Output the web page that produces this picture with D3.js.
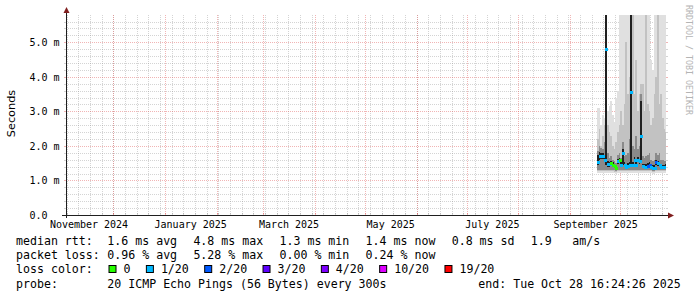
<!DOCTYPE html>
<html><head><meta charset="utf-8">
<script src="https://cdn.jsdelivr.net/npm/d3@7"></script>
<style>html,body{margin:0;padding:0;background:#fff;} svg{display:block;}</style>
</head><body><svg id="c" width="697" height="297"></svg>
<script>
// ---------------- data ----------------
const endTime = "2025-10-28T16:24:26Z";
const spanDays = 360;
const yMaxMs = 5.79;
const yTickValues = [0, 1, 2, 3, 4, 5];
const yTickLabels = ["0.0", "1.0 m", "2.0 m", "3.0 m", "4.0 m", "5.0 m"];
const xLabelMonths = ["2024-11-01", "2025-01-01", "2025-03-01", "2025-05-01", "2025-07-01", "2025-09-01"];
const xLabels = ["November 2024", "January 2025", "March 2025", "May 2025", "July 2025", "September 2025"];
const yAxisTitle = "Seconds";
const watermark = "RRDTOOL / TOBI OETIKER";

// daily bins starting at this time
const binStart = "2025-09-17T12:00:00Z";
const medianMs = [1.52,1.70,1.72,1.72,1.60,4.80,1.48,1.47,1.50,1.45,1.42,1.35,1.56,1.58,1.45,1.80,1.45,1.40,1.42,1.45,3.55,1.45,1.60,1.45,1.60,1.55,2.30,1.42,1.40,1.40,1.43,1.45,1.40,1.37,1.37,1.52,1.50,1.45,1.40,1.38,1.38,1.40];
const lossPings = [1,1,1,1,1,1,1,1,0,0,0,0,1,0,1,1,1,1,1,1,1,1,1,1,1,1,1,1,1,1,2,2,1,1,1,2,1,1,1,1,1,1];
// smoke bands (ms), outer (light) to inner (dark)
const band1Lo = [1.22,1.22,1.22,1.22,1.22,1.22,1.22,1.22,1.22,1.22,1.22,1.2,1.22,1.22,1.22,1.22,1.22,1.22,1.22,1.22,1.22,1.22,1.22,1.22,1.22,1.22,1.22,1.22,1.22,1.22,1.22,1.22,1.22,1.2,1.2,1.22,1.22,1.22,1.22,1.22,1.22,1.22];
const band1Hi = [3.1,3.1,2.6,2.9,2.8,6,3.0,3.15,3.3,2.9,2.7,3.4,3.6,6,6,6,6,6,6,6,6,6,6,6,6,6,6,6,6,6,6,6,4.5,4.2,6,6,6,6,6,6,6,6];
const band2Lo = [1.26,1.26,1.26,1.26,1.26,1.26,1.26,1.26,1.26,1.26,1.25,1.24,1.26,1.26,1.26,1.26,1.26,1.26,1.26,1.26,1.26,1.26,1.26,1.26,1.26,1.26,1.26,1.26,1.26,1.26,1.26,1.26,1.26,1.25,1.25,1.26,1.26,1.26,1.26,1.26,1.26,1.26];
const band2Hi = [2.2,2.5,2.0,2.3,2.6,6,2.6,2.4,2.3,2.0,1.9,2.1,2.4,2.6,3.0,2.6,3.2,5.0,3.5,4.0,6,6,3.5,4.5,3.0,3.5,3.8,3.8,3.0,6,3.2,3.0,2.6,2.8,3.5,4.0,6,3.2,3.5,2.8,2.5,2.4];
const band3Lo = [1.3,1.3,1.3,1.3,1.3,1.3,1.3,1.3,1.3,1.3,1.29,1.27,1.3,1.3,1.3,1.3,1.3,1.3,1.3,1.3,1.3,1.3,1.3,1.3,1.3,1.3,1.3,1.3,1.3,1.3,1.3,1.3,1.3,1.28,1.28,1.3,1.3,1.3,1.3,1.3,1.3,1.3];
const band3Hi = [1.85,2.0,1.95,1.9,2.1,6,1.8,1.65,1.7,1.6,1.55,1.5,1.75,1.8,1.65,2.1,1.7,1.75,1.8,2.2,6,2.0,1.9,2.3,1.9,2.0,3.5,1.7,1.65,1.7,1.75,1.8,1.6,1.55,1.6,1.8,1.75,1.8,1.6,1.6,1.55,1.55];
const band4Lo = [1.44,1.6,1.62,1.62,1.52,1.45,1.4,1.4,1.42,1.38,1.35,1.3,1.48,1.5,1.38,1.45,1.38,1.34,1.36,1.38,1.45,1.38,1.52,1.38,1.52,1.48,1.5,1.36,1.34,1.34,1.36,1.38,1.34,1.32,1.32,1.45,1.43,1.38,1.34,1.33,1.33,1.34];
const band4Hi = [1.75,1.82,1.8,1.8,1.7,6,1.55,1.54,1.57,1.52,1.49,1.42,1.63,1.66,1.52,1.9,1.52,1.47,1.5,1.52,6,1.52,1.68,1.52,1.68,1.62,3.3,1.49,1.47,1.47,1.5,1.52,1.47,1.44,1.44,1.6,1.57,1.52,1.47,1.45,1.45,1.47];

const lossThresholds = [0, 1, 2, 3, 4, 10, 19];
const lossLabels = ["0", "1/20", "2/20", "3/20", "4/20", "10/20", "19/20"];
const lossColors = ["#26ff00", "#00b8ff", "#0059ff", "#5e00ff", "#7e00ff", "#dd00ff", "#ff0000"];

const rttHead = "median rtt:";
const rttStats = ["1.6 ms avg", "4.8 ms max", "1.3 ms min", "1.4 ms now", "0.8 ms sd"];
const amsValue = "1.9";
const amsUnit = "am/s";
const lossHead = "packet loss:";
const lossStats = ["0.96 % avg", "5.28 % max", "0.00 % min", "0.24 % now"];
const colorHead = "loss color:";
const probeHead = "probe:";
const probeText = "20 ICMP Echo Pings (56 Bytes) every 300s";
const endText = "end: Tue Oct 28 16:24:26 2025";

// ---------------- layout ----------------
const L = 66, R = 666, T = 15, B = 215;
const MONO = "'DejaVu Sans Mono', monospace";
const svg = d3.select("#c");
svg.append("rect").attr("width", 697).attr("height", 297).attr("fill", "#fff");

const tEnd = new Date(endTime);
const tStart = d3.utcDay.offset(tEnd, -spanDays);
const x = d3.scaleUtc().domain([tStart, tEnd]).range([L, R]);
const y = d3.scaleLinear().domain([0, yMaxMs]).range([B, T]);

svg.append("defs").append("clipPath").attr("id", "plot")
  .append("rect").attr("x", L).attr("y", T).attr("width", R - L).attr("height", B - T);

const grid = svg.append("g");
const minorCol = "rgba(143,143,143,0.38)", majorCol = "rgba(222,79,79,0.42)";
const yMinor = d3.range(0, yMaxMs + 1e-9, 0.2).filter(v => Math.abs(v - Math.round(v)) > 1e-6);
yMinor.forEach(v => {
  const yy = Math.round(y(v)) + 0.5;
  grid.append("line").attr("x1", L).attr("x2", R).attr("y1", yy).attr("y2", yy)
    .attr("stroke", minorCol).attr("stroke-dasharray", "1,1");
  grid.append("line").attr("x1", L - 2).attr("x2", L).attr("y1", yy).attr("y2", yy).attr("stroke", minorCol);
  grid.append("line").attr("x1", R).attr("x2", R + 2).attr("y1", yy).attr("y2", yy).attr("stroke", minorCol);
});
d3.utcSunday.range(tStart, tEnd).forEach(d => {
  const xx = Math.round(x(d)) + 0.5;
  grid.append("line").attr("x1", xx).attr("x2", xx).attr("y1", T).attr("y2", B)
    .attr("stroke", minorCol).attr("stroke-dasharray", "1,1");
  grid.append("line").attr("x1", xx).attr("x2", xx).attr("y1", B - 2).attr("y2", B).attr("stroke", minorCol);
});
d3.utcMonth.range(tStart, tEnd).forEach(d => {
  const xx = Math.round(x(d)) + 0.5;
  grid.append("line").attr("x1", xx).attr("x2", xx).attr("y1", T).attr("y2", B)
    .attr("stroke", majorCol).attr("stroke-dasharray", "1,1");
  grid.append("line").attr("x1", xx).attr("x2", xx).attr("y1", B - 2).attr("y2", B).attr("stroke", majorCol);
});
yTickValues.filter(v => v > 0).forEach(v => {
  const yy = Math.round(y(v)) + 0.5;
  grid.append("line").attr("x1", L).attr("x2", R).attr("y1", yy).attr("y2", yy)
    .attr("stroke", majorCol).attr("stroke-dasharray", "1,1");
  grid.append("line").attr("x1", L - 2).attr("x2", L).attr("y1", yy).attr("y2", yy).attr("stroke", majorCol);
  grid.append("line").attr("x1", R).attr("x2", R + 2).attr("y1", yy).attr("y2", yy).attr("stroke", majorCol);
});

// ---------------- smoke ----------------
const t0 = new Date(binStart);
const bins = medianMs.map((m, i) => {
  const d0 = d3.utcDay.offset(t0, i);
  const d1 = d3.utcDay.offset(d0, 1);
  const px0 = Math.floor(x(d0)), px1 = Math.min(R, Math.floor(x(d1 > tEnd ? tEnd : d1)));
  return { px0, px1, m, loss: lossPings[i], i };
});
const plotG = svg.append("g").attr("clip-path", "url(#plot)");
const bands = [
  [band1Lo, band1Hi, "#e0e0e0"],
  [band2Lo, band2Hi, "#c2c2c2"],
  [band3Lo, band3Hi, "#8a8a8a"],
  [band4Lo, band4Hi, "#202020"]
];
bands.forEach(([lo, hi, col]) => {
  plotG.append("g").selectAll("rect").data(bins).join("rect")
    .attr("x", b => b.px0).attr("width", b => b.px1 - b.px0)
    .attr("y", b => Math.round(y(Math.min(hi[b.i], yMaxMs + 0.2))))
    .attr("height", b => Math.round(y(lo[b.i])) - Math.round(y(Math.min(hi[b.i], yMaxMs + 0.2))))
    .attr("fill", col);
});
function lossColor(n) {
  let k = 0;
  lossThresholds.forEach((t, j) => { if (n >= t) k = j; });
  return lossColors[k];
}
plotG.append("g").selectAll("rect").data(bins).join("rect")
  .attr("x", b => b.px0).attr("width", b => Math.max(2, b.px1 - b.px0) + 1)
  .attr("y", b => Math.round(y(b.m)) - 1).attr("height", 3)
  .attr("fill", b => lossColor(b.loss));

// ---------------- axes ----------------
const axisCol = "#1f1f1f", arrowCol = "#801f1f";
svg.append("line").attr("x1", L - 4).attr("x2", R + 3).attr("y1", B + 0.5).attr("y2", B + 0.5).attr("stroke", axisCol);
svg.append("line").attr("x1", L + 0.5).attr("x2", L + 0.5).attr("y1", B + 3).attr("y2", T - 3).attr("stroke", axisCol);
svg.append("path").attr("d", `M${R + 2},${B - 2.5} L${R + 8},${B + 0.5} L${R + 2},${B + 3.5} Z`).attr("fill", arrowCol);
svg.append("path").attr("d", `M${L - 2.5},${T - 2} L${L + 0.5},${T - 8} L${L + 3.5},${T - 2} Z`).attr("fill", arrowCol);

svg.append("g").selectAll("text").data(yTickValues).join("text")
  .attr("x", 29.5).attr("y", v => y(v) + 3.8)
  .attr("font-family", MONO).attr("font-size", "10px").attr("fill", "#000")
  .text((v, i) => yTickLabels[i]);
svg.append("g").selectAll("text").data(xLabelMonths).join("text")
  .attr("x", d => x(new Date(new Date(d + "T00:00:00Z").getTime() + 15.5 * 864e5)))
  .attr("y", 228).attr("text-anchor", "middle")
  .attr("font-family", MONO).attr("font-size", "10px").attr("fill", "#000")
  .text((d, i) => xLabels[i]);
svg.append("text").attr("transform", `translate(15,113.5) rotate(-90)`)
  .attr("text-anchor", "middle").attr("font-family", "'DejaVu Sans', sans-serif")
  .attr("font-size", "11.3px").attr("fill", "#000").text(yAxisTitle);
svg.append("text").attr("transform", `translate(685.5,5) rotate(90)`)
  .attr("font-family", MONO).attr("font-size", "8.3px").attr("fill", "#b4b4b4").text(watermark);

// ---------------- legend ----------------
const LF = "11.6px", CW = 6.98;
const leg = svg.append("g").attr("font-family", MONO).attr("font-size", LF).attr("fill", "#000")
  .attr("xml:space", "preserve");
const row = [245, 259.2, 273.4, 287.6];
const colX0 = 107.3, colStep = 86.1;
leg.append("text").attr("x", 16).attr("y", row[0]).text(rttHead);
rttStats.forEach((s, i) => leg.append("text").attr("x", colX0 + i * colStep).attr("y", row[0]).text(s));
leg.append("text").attr("x", 530.7).attr("y", row[0]).text(amsValue);
leg.append("text").attr("x", 572.3).attr("y", row[0]).text(amsUnit);
leg.append("text").attr("x", 16).attr("y", row[1]).text(lossHead);
lossStats.forEach((s, i) => leg.append("text").attr("x", colX0 + i * colStep).attr("y", row[1]).text(s));
leg.append("text").attr("x", 16).attr("y", row[2]).text(colorHead);
let bx = 108.5;
lossLabels.forEach((lab, i) => {
  leg.append("rect").attr("x", bx + 0.5).attr("y", 265.5).attr("width", 7).attr("height", 7)
    .attr("fill", lossColors[i]).attr("stroke", "#000").attr("stroke-width", 1);
  leg.append("text").attr("x", bx + 15).attr("y", row[2]).text(lab);
  bx = bx + 15 + lab.length * CW + 15.4;
});
leg.append("text").attr("x", 16).attr("y", row[3]).text(probeHead);
leg.append("text").attr("x", colX0).attr("y", row[3]).text(probeText);
leg.append("text").attr("x", 478.3).attr("y", row[3]).text(endText);
</script></body></html>
